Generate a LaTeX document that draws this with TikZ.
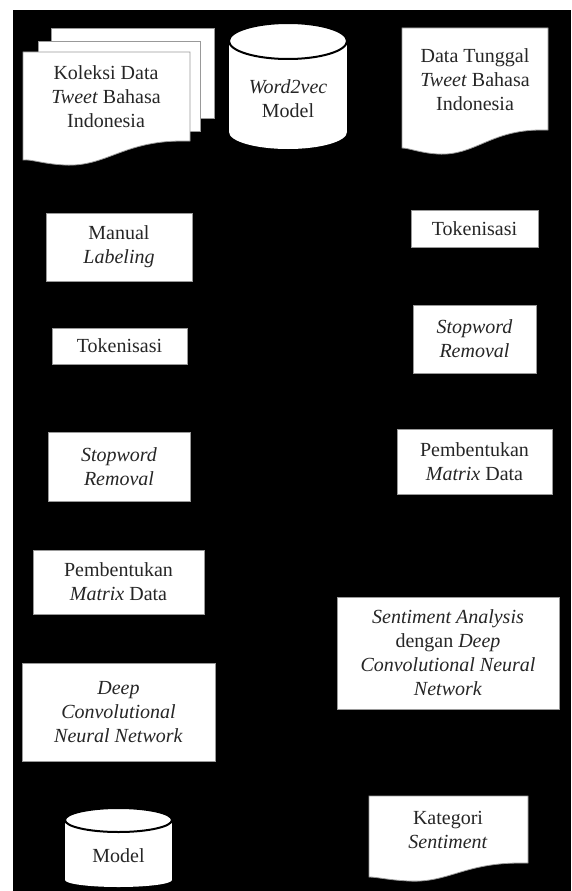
\documentclass[tikz,border=0pt]{standalone}
\usepackage{fontspec}
\setmainfont{Liberation Serif}
\begin{document}
\begin{tikzpicture}[x=1pt,y=-1pt,
  every node/.style={font=\fontsize{20}{24}\selectfont, align=center, text=black!85},
  procbox/.style={draw=black!40, line width=0.8pt, fill=white, inner sep=0pt},
  shapeline/.style={draw=black!40, line width=0.8pt, fill=white},
  rim/.style={draw=black, line width=2pt}]
\useasboundingbox (0,0) rectangle (571,891);
\fill[white] (0,0) rectangle (571,891);
\fill[black] (13,10) rectangle (571,891);

% ---- multi-document: Koleksi Data
\path[shapeline] (51,28) rectangle (214,118);
\path[shapeline] (38,41) rectangle (200,131);
\path[shapeline] (23,52) -- (190,52) -- (190,141) -- (182,141)
  .. controls (123,141) and (106,167) .. (65,165)
  .. controls (43,164) and (31,159) .. (23,160) -- cycle;
\node (koleksi) at (106,97) {Koleksi Data\\\textit{Tweet} Bahasa\\Indonesia};

% ---- cylinder: Word2vec Model
\fill[white] (229,41) rectangle (347,132);
\fill[white] (288,132) ellipse [x radius=59, y radius=17];
\fill[white] (288,41) ellipse [x radius=59, y radius=18];
\draw[rim] (288,41) ellipse [x radius=59, y radius=18];
\node (w2v) at (288,99) {\textit{Word2vec}\\Model};

% ---- document: Data Tunggal
\path[shapeline] (402,28) -- (548,28) -- (548,130) -- (541,130)
  .. controls (490,130) and (475,156) .. (438,154)
  .. controls (420,153) and (409,148) .. (402,148) -- cycle;
\node (tunggal) at (475,80) {Data Tunggal\\\textit{Tweet} Bahasa\\Indonesia};

% ---- left column
\node[procbox, minimum width=146pt, minimum height=68pt] (manual) at (119,247) {Manual\\\textit{Labeling}};
\node[procbox, minimum width=135pt, minimum height=36pt] (tokL) at (119.5,346) {Tokenisasi};
\node[procbox, minimum width=142pt, minimum height=69pt] (stopL) at (119,466.5) {\textit{Stopword}\\\textit{Removal}};
\node[procbox, minimum width=171pt, minimum height=64pt] (pembL) at (118.5,582) {Pembentukan\\\textit{Matrix} Data};
\node[procbox, minimum width=193pt, minimum height=98pt] (dcnn) at (118.5,712) {\textit{Deep}\\\textit{Convolutional}\\\textit{Neural Network}};

% ---- cylinder: Model
\fill[white] (65,820) rectangle (172,880);
\fill[white] (118.5,880) ellipse [x radius=53.5, y radius=7];
\fill[white] (118.5,820) ellipse [x radius=53.5, y radius=12];
\draw[rim] (118.5,820) ellipse [x radius=53.5, y radius=12];
\node (model) at (118.5,856) {Model};

% ---- right column
\node[procbox, minimum width=127pt, minimum height=37pt] (tokR) at (474.5,228.5) {Tokenisasi};
\node[procbox, minimum width=123pt, minimum height=68pt] (stopR) at (474.5,339) {\textit{Stopword}\\\textit{Removal}};
\node[procbox, minimum width=155pt, minimum height=65pt] (pembR) at (474.5,461.5) {Pembentukan\\\textit{Matrix} Data};
\node[procbox, minimum width=222pt, minimum height=112pt] (sa) at (448,653) {\textit{Sentiment Analysis}\\dengan \textit{Deep}\\\textit{Convolutional Neural}\\\textit{Network}};

% ---- document: Kategori Sentiment
\path[shapeline] (369,796) -- (528,796) -- (528,863) -- (520,863)
  .. controls (464,863) and (448,883) .. (409,881)
  .. controls (388,880) and (377,877) .. (369,877) -- cycle;
\node (kategori) at (448,830) {Kategori\\\textit{Sentiment}};
\end{tikzpicture}
\end{document}
